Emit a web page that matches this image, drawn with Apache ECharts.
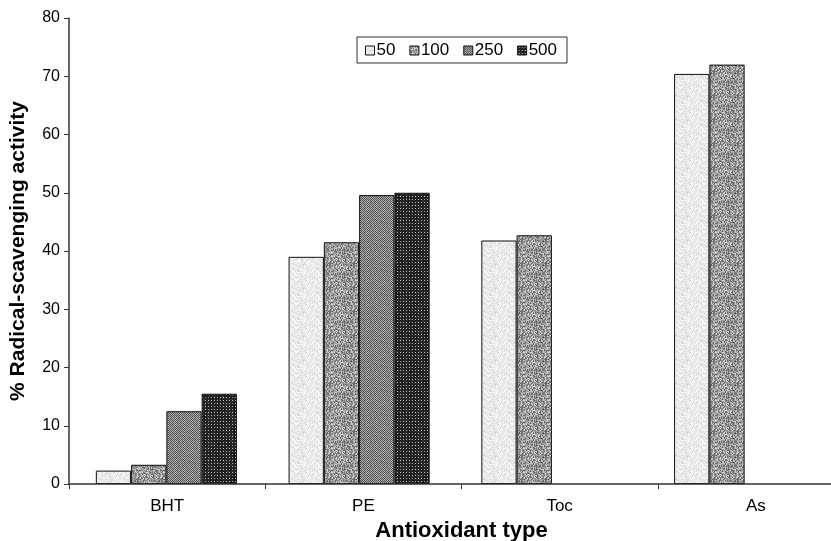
<!DOCTYPE html>
<html>
<head>
<meta charset="utf-8">
<script src="https://cdn.jsdelivr.net/npm/echarts@6/dist/echarts.min.js"></script>
<style>
  html, body { margin: 0; padding: 0; background: #fff; }
  #chart { width: 831px; height: 541px; }
</style>
</head>
<body>
<div id="chart"></div>
<script>
// data
var categories = ["BHT", "PE", "Toc", "As"];
var seriesNames = ["50", "100", "250", "500"];
var values50 = [2.3, 39.0, 41.8, 70.4];
var values100 = [3.3, 41.5, 42.7, 72.0];
var values250 = [12.5, 49.6, null, null];
var values500 = [15.5, 50.0, null, null];

// deterministic hash for the grain of the fills
function hash(x, y, s) {
  var h = (x * 374761393 + y * 668265263 + s * 2147483647) | 0;
  h = (h ^ (h >>> 13)) * 1274126177;
  h = h ^ (h >>> 16);
  return ((h >>> 0) % 1000) / 1000;
}

// build a small tile for each fill
function makeTile(kind) {
  var size = 24;
  var c = document.createElement("canvas");
  c.width = size; c.height = size;
  var ctx = c.getContext("2d");
  var img = ctx.createImageData(size, size);
  for (var y = 0; y < size; y++) {
    for (var x = 0; x < size; x++) {
      var v;
      var r = hash(x, y, kind);
      if (kind === 1) {
        v = 215 + r * 38;
      } else if (kind === 2) {
        v = 90 + r * 125;
      } else if (kind === 3) {
        v = ((x + y) % 2 === 0) ? 70 + r * 20 : 165 + r * 25;
      } else {
        v = (x % 3 === 1 && y % 3 === 1) ? 150 + r * 60 : 20 + r * 30;
      }
      var i = (y * size + x) * 4;
      img.data[i] = v; img.data[i + 1] = v; img.data[i + 2] = v; img.data[i + 3] = 255;
    }
  }
  ctx.putImageData(img, 0, 0);
  return c;
}

var fills = [makeTile(1), makeTile(2), makeTile(3), makeTile(4)];
var allValues = [values50, values100, values250, values500];

var myChart = echarts.init(document.getElementById("chart"));

// bars sit on a hidden second grid: in the original the bar groups are
// spaced a little tighter than the category labels
var series = [];
for (var i = 0; i < seriesNames.length; i++) {
  series.push({
    name: seriesNames[i],
    type: "bar",
    xAxisIndex: 1,
    yAxisIndex: 1,
    data: allValues[i],
    barGap: "0%",
    barCategoryGap: "26.8%",
    itemStyle: {
      color: { image: fills[i], repeat: "repeat" },
      borderColor: "#111",
      borderWidth: 1
    }
  });
}

var option = {
  animation: false,
  textStyle: { fontFamily: "Liberation Sans, Arial, sans-serif" },
  // plot area runs past the right edge, as in the cropped original
  grid: [
    { left: 69, top: 18, width: 785, bottom: 57, outerBoundsMode: "none" },
    { left: 70, top: 18, width: 771, bottom: 57, outerBoundsMode: "none" }
  ],
  legend: {
    data: seriesNames,
    left: 357,
    top: 37,
    orient: "horizontal",
    itemWidth: 9,
    itemHeight: 9,
    itemGap: 14,
    padding: [5, 10, 4, 8],
    borderColor: "#333",
    borderWidth: 1,
    icon: "rect",
    itemStyle: { borderColor: "#111", borderWidth: 1 },
    textStyle: { fontSize: 17, color: "#000", padding: [0, 0, 0, -3] }
  },
  xAxis: [
    {
      type: "category",
      gridIndex: 0,
      data: categories,
      boundaryGap: true,
      name: "Antioxidant type",
      nameLocation: "middle",
      nameGap: 34,
      nameTextStyle: { fontSize: 22, fontWeight: "bold", color: "#000" },
      axisLine: { lineStyle: { color: "#333", width: 1.5 } },
      axisTick: { show: true, length: 5, interval: 0, lineStyle: { color: "#333" } },
      axisLabel: { fontSize: 17, color: "#000", margin: 14 },
      splitLine: { show: false },
      z: 5
    },
    {
      type: "category",
      gridIndex: 1,
      data: categories,
      boundaryGap: true,
      show: false
    }
  ],
  yAxis: [
    {
      type: "value",
      gridIndex: 0,
      min: 0,
      max: 80,
      interval: 10,
      name: "% Radical-scavenging activity",
      nameLocation: "middle",
      nameGap: 40,
      nameTextStyle: { fontSize: 21, fontWeight: "bold", color: "#000" },
      axisLine: { show: true, lineStyle: { color: "#333", width: 1.5 } },
      axisTick: { show: true, length: 5, lineStyle: { color: "#333" } },
      axisLabel: { fontSize: 16, color: "#000", margin: 9 },
      splitLine: { show: false }
    },
    {
      type: "value",
      gridIndex: 1,
      min: 0,
      max: 80,
      interval: 10,
      show: false,
      splitLine: { show: false }
    }
  ],
  series: series
};

myChart.setOption(option);
</script>
</body>
</html>
